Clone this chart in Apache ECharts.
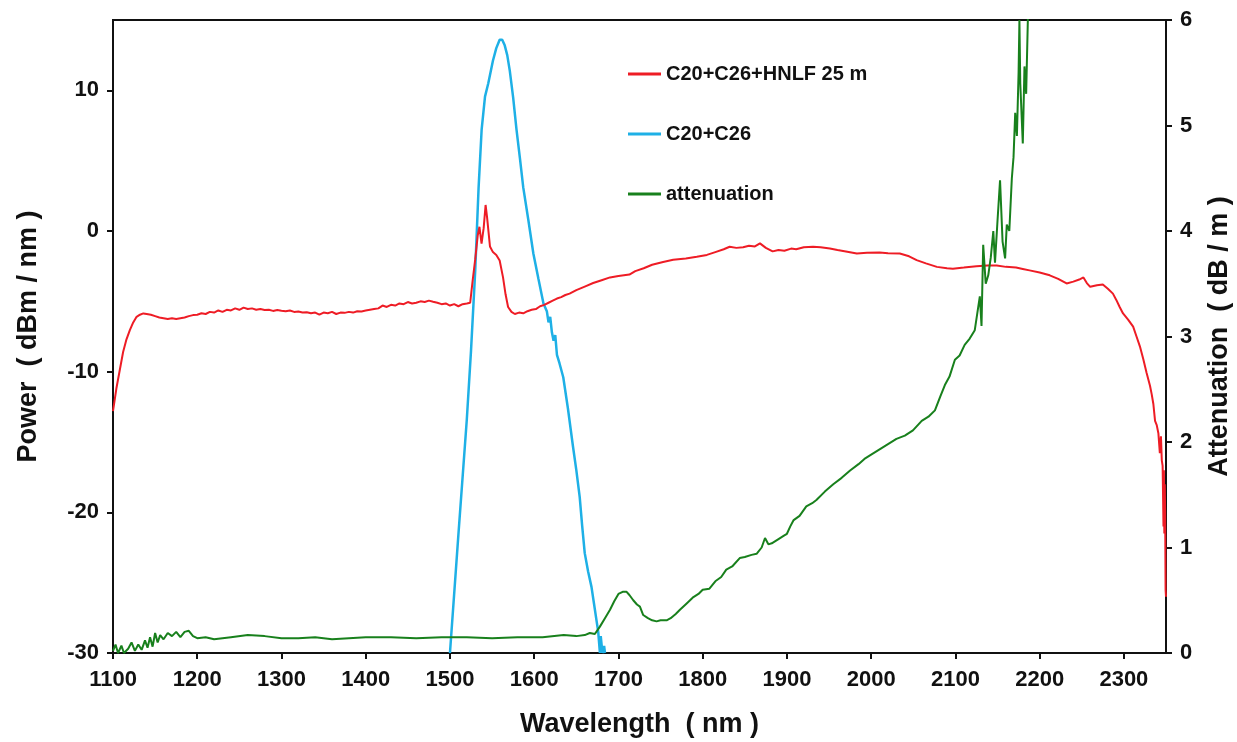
<!DOCTYPE html>
<html>
<head>
<meta charset="utf-8">
<title>Supercontinuum spectrum and fiber attenuation</title>
<script src="https://cdn.jsdelivr.net/npm/echarts@6/dist/echarts.min.js"></script>
<style>
  html, body { margin: 0; padding: 0; background: #ffffff; }
  #chart { width: 1237px; height: 742px; }
</style>
</head>
<body>
<div id="chart"></div>
<script>
// Tick values for the three axes
const wavelengthTicks = [1100, 1200, 1300, 1400, 1500, 1600, 1700, 1800, 1900, 2000, 2100, 2200, 2300];
const powerTicks = [-30, -20, -10, 0, 10];
const attenuationTicks = [0, 1, 2, 3, 4, 5, 6];

// Output spectrum after C20+C26 amplifiers and 25 m of HNLF: [wavelength nm, dBm/nm]
const hnlfSpectrum = [
  [1100,-12.8],[1104,-11.2],[1108,-9.9],[1112,-8.6],[1116,-7.7],[1120,-7.05],[1124,-6.5],[1128,-6.1],
  [1132,-5.95],[1136,-5.86],[1140,-5.9],[1145,-5.95],[1150,-6.05],[1155,-6.15],[1160,-6.2],[1165,-6.25],
  [1170,-6.2],[1175,-6.25],[1180,-6.2],[1185,-6.15],[1190,-6.05],[1195,-5.98],[1200,-5.95],[1205,-5.85],
  [1210,-5.9],[1215,-5.75],[1220,-5.8],[1225,-5.65],[1230,-5.75],[1235,-5.6],[1240,-5.65],[1245,-5.5],
  [1250,-5.6],[1255,-5.45],[1260,-5.55],[1265,-5.5],[1270,-5.6],[1275,-5.55],[1280,-5.62],[1285,-5.6],
  [1290,-5.68],[1295,-5.62],[1300,-5.67],[1305,-5.7],[1310,-5.65],[1315,-5.75],[1320,-5.72],[1325,-5.8],
  [1330,-5.78],[1335,-5.85],[1340,-5.8],[1345,-5.95],[1350,-5.8],[1355,-5.85],[1360,-5.75],[1365,-5.9],
  [1370,-5.8],[1375,-5.82],[1380,-5.75],[1385,-5.8],[1390,-5.7],[1395,-5.72],[1400,-5.65],[1405,-5.6],
  [1410,-5.55],[1415,-5.5],[1420,-5.3],[1425,-5.4],[1430,-5.25],[1435,-5.3],[1440,-5.15],[1445,-5.2],
  [1450,-5.05],[1455,-5.15],[1460,-5.1],[1465,-5.0],[1470,-5.05],[1475,-4.95],[1480,-5.03],[1485,-5.1],
  [1490,-5.2],[1495,-5.15],[1500,-5.3],[1505,-5.2],[1510,-5.35],[1515,-5.2],[1520,-5.15],[1524,-5.1],
  [1527,-3.5],[1530,-2.0],[1533,-0.3],[1535,0.3],[1537.5,-0.9],[1540,0.2],[1542.3,1.85],[1544,1.0],
  [1547.5,-1.1],[1551,-1.5],[1555,-1.7],[1559,-2.1],[1563,-3.3],[1566,-4.5],[1569,-5.4],[1573,-5.75],
  [1577,-5.9],[1582,-5.8],[1587,-5.85],[1592,-5.7],[1597,-5.6],[1602,-5.55],[1607,-5.35],[1612,-5.25],
  [1617,-5.1],[1622,-4.95],[1627,-4.8],[1632,-4.7],[1637,-4.55],[1642,-4.45],[1650,-4.2],[1660,-3.95],
  [1670,-3.7],[1680,-3.5],[1690,-3.3],[1700,-3.2],[1713,-3.1],[1720,-2.85],[1730,-2.65],[1740,-2.4],
  [1753,-2.2],[1765,-2.05],[1780,-1.95],[1793,-1.83],[1805,-1.7],[1815,-1.5],[1825,-1.3],[1832,-1.12],
  [1840,-1.2],[1848,-1.15],[1855,-1.05],[1862,-1.1],[1868,-0.88],[1875,-1.2],[1883,-1.45],[1890,-1.35],
  [1897,-1.4],[1905,-1.25],[1911,-1.3],[1920,-1.15],[1931,-1.12],[1940,-1.15],[1951,-1.24],[1960,-1.35],
  [1970,-1.45],[1983,-1.6],[1995,-1.55],[2010,-1.52],[2020,-1.58],[2034,-1.6],[2045,-1.8],[2054,-2.07],
  [2065,-2.3],[2078,-2.55],[2090,-2.65],[2097,-2.68],[2110,-2.6],[2125,-2.5],[2138,-2.45],[2149,-2.45],
  [2160,-2.55],[2172,-2.6],[2180,-2.7],[2188,-2.8],[2200,-2.95],[2212,-3.15],[2222,-3.4],[2232,-3.73],
  [2240,-3.6],[2247,-3.45],[2252,-3.3],[2256,-3.7],[2260,-3.97],[2268,-3.85],[2275,-3.8],[2281,-4.1],
  [2287,-4.45],[2291,-4.9],[2295,-5.4],[2299,-5.86],[2305,-6.3],[2311,-6.8],[2315,-7.5],[2319,-8.2],
  [2323,-9.1],[2327,-10.1],[2331,-11.0],[2333,-11.6],[2335,-12.3],[2337,-13.5],[2339,-13.8],[2341,-14.4],
  [2342.7,-15.8],[2344,-14.6],[2345,-16.3],[2346,-16.7],[2347,-21.0],[2347.5,-17.0],[2348,-21.5],
  [2348.5,-18.0],[2349,-20.0],[2349.5,-25.5],[2350,-26.0]
];

// Seed spectrum after the C20+C26 amplifiers: [wavelength nm, dBm/nm]
const ampSpectrum = [
  [1500,-30],[1510,-21.6],[1520,-13.4],[1525,-8.5],[1530,-2.8],[1534,3.1],[1537.6,7.2],[1541.6,9.55],
  [1545.5,10.5],[1551,12.1],[1555,13.0],[1559,13.6],[1562,13.6],[1565,13.2],[1568,12.5],[1571,11.4],
  [1575,9.5],[1579,7.2],[1583,5.2],[1587,3.1],[1593,0.8],[1599,-1.6],[1605,-3.4],[1611,-5.15],
  [1615,-5.7],[1617,-6.5],[1619,-6.1],[1621,-7.2],[1623,-7.8],[1625,-7.4],[1627,-8.8],[1630,-9.4],
  [1634.5,-10.4],[1640,-12.6],[1646,-15.3],[1650,-17.0],[1654,-18.9],[1657,-21.0],[1660,-22.9],
  [1664,-24.2],[1668,-25.3],[1671,-26.5],[1674,-27.7],[1676,-28.5],[1678,-30],[1679,-28.8],
  [1681,-30],[1683,-29.5],[1684,-30]
];

// Measured fiber attenuation: [wavelength nm, dB/m]
const attenuation = [
  [1100,0.02],[1103,0.08],[1106,0.0],[1110,0.07],[1113,0.0],[1118,0.04],[1122,0.1],[1126,0.02],
  [1130,0.08],[1134,0.03],[1138,0.12],[1141,0.05],[1144,0.15],[1147,0.06],[1150,0.19],[1153,0.1],
  [1156,0.17],[1160,0.13],[1165,0.19],[1170,0.16],[1175,0.2],[1180,0.15],[1185,0.2],[1190,0.21],
  [1195,0.16],[1200,0.14],[1210,0.15],[1220,0.13],[1240,0.15],[1260,0.17],[1280,0.16],[1300,0.14],
  [1320,0.14],[1340,0.15],[1360,0.13],[1380,0.14],[1400,0.15],[1430,0.15],[1460,0.14],[1490,0.15],
  [1520,0.15],[1550,0.14],[1580,0.15],[1610,0.15],[1635,0.17],[1650,0.16],[1660,0.17],[1666,0.19],
  [1672,0.18],[1678,0.25],[1684,0.33],[1690,0.41],[1695,0.49],[1700,0.56],[1705,0.58],[1709.7,0.58],
  [1713,0.55],[1717.6,0.5],[1722,0.46],[1725.5,0.44],[1729.4,0.36],[1735,0.33],[1740,0.31],
  [1745.3,0.3],[1750,0.31],[1757.2,0.31],[1762,0.33],[1768,0.37],[1773,0.41],[1781,0.47],[1789,0.53],
  [1795,0.56],[1800,0.6],[1808,0.61],[1815,0.68],[1822,0.72],[1828,0.79],[1835,0.82],[1844,0.9],
  [1850,0.91],[1858,0.93],[1864,0.94],[1870,1.0],[1874,1.09],[1878,1.03],[1882,1.04],[1890,1.08],
  [1896,1.11],[1900,1.13],[1904,1.2],[1908,1.26],[1915,1.3],[1923,1.39],[1930,1.42],[1935,1.45],
  [1945,1.53],[1955,1.6],[1965,1.66],[1975,1.73],[1985,1.79],[1992,1.84],[2000,1.88],[2010,1.93],
  [2020,1.98],[2030,2.03],[2040,2.06],[2049.6,2.11],[2060,2.2],[2068,2.24],[2075.7,2.3],[2082,2.43],
  [2087.5,2.54],[2093,2.62],[2099.4,2.78],[2105,2.82],[2111,2.92],[2117,2.98],[2123,3.06],
  [2129,3.38],[2131,3.1],[2133,3.87],[2136,3.5],[2139,3.58],[2142,3.75],[2145,4.0],[2147,3.7],
  [2150,4.1],[2153,4.48],[2156,3.9],[2159,3.74],[2161,4.06],[2164,4.0],[2167,4.5],[2169,4.7],
  [2171,5.12],[2173,4.9],[2175,5.5],[2176,6.0],[2177,5.4],[2180,4.83],[2182,5.56],[2184,5.3],
  [2186,6.0],[2188,6.5]
];

const FONT = '"Liberation Sans", Arial, sans-serif';
const INK = '#111111';

const axisLineStyle = { show: true, onZero: false, lineStyle: { color: INK, width: 2 } };
const tickLabel = { color: INK, fontFamily: FONT, fontWeight: 'bold', fontSize: 22, formatter: v => String(v) };
const axisName = { color: INK, fontFamily: FONT, fontWeight: 'bold', fontSize: 27 };
const tickStyle = { show: true, inside: false, length: 6, lineStyle: { color: INK, width: 2 } };

const chart = echarts.init(document.getElementById('chart'), null, { renderer: 'canvas' });

chart.setOption({
  animation: false,
  backgroundColor: '#ffffff',
  grid: {
    left: 113, right: 71, top: 20, bottom: 89,
    outerBoundsMode: 'none',
    containLabel: false,
    show: true, borderColor: INK, borderWidth: 2, backgroundColor: 'transparent'
  },
  legend: {
    orient: 'vertical',
    left: 628,
    top: 64,
    padding: 0,
    itemWidth: 33,
    itemHeight: 3,
    itemGap: 40,
    icon: 'rect',
    textStyle: { color: INK, fontFamily: FONT, fontWeight: 'bold', fontSize: 20, lineHeight: 20 },
    data: ['C20+C26+HNLF 25 m', 'C20+C26', 'attenuation']
  },
  xAxis: {
    type: 'value',
    min: 1100, max: 2350, interval: 100,
    name: 'Wavelength  ( nm )',
    nameLocation: 'middle',
    nameGap: 58,
    nameTextStyle: axisName,
    axisLine: axisLineStyle,
    axisTick: Object.assign({ customValues: wavelengthTicks }, tickStyle),
    axisLabel: Object.assign({ margin: 16, customValues: wavelengthTicks }, tickLabel),
    splitLine: { show: false }
  },
  yAxis: [
    {
      type: 'value',
      position: 'left',
      min: -30, max: 15, interval: 10,
      name: 'Power  ( dBm / nm )',
      nameLocation: 'middle',
      nameRotate: 90,
      nameGap: 71,
      nameTextStyle: axisName,
      axisLine: axisLineStyle,
      axisTick: Object.assign({ customValues: powerTicks }, tickStyle),
      axisLabel: Object.assign({ margin: 14, customValues: powerTicks }, tickLabel),
      splitLine: { show: false }
    },
    {
      type: 'value',
      position: 'right',
      min: 0, max: 6, interval: 1,
      name: 'Attenuation  ( dB / m )',
      nameLocation: 'middle',
      nameRotate: 90,
      nameGap: 40,
      nameTextStyle: axisName,
      axisLine: axisLineStyle,
      axisTick: Object.assign({ customValues: attenuationTicks }, tickStyle),
      axisLabel: Object.assign({ margin: 14, customValues: attenuationTicks }, tickLabel),
      splitLine: { show: false }
    }
  ],
  series: [
    {
      name: 'C20+C26+HNLF 25 m',
      type: 'line',
      yAxisIndex: 0,
      data: hnlfSpectrum,
      showSymbol: false,
      clip: true,
      color: '#ee1c25',
      lineStyle: { width: 2, color: '#ee1c25' },
      z: 3
    },
    {
      name: 'C20+C26',
      type: 'line',
      yAxisIndex: 0,
      data: ampSpectrum,
      showSymbol: false,
      clip: true,
      color: '#1eb0e6',
      lineStyle: { width: 2.5, color: '#1eb0e6' },
      z: 2
    },
    {
      name: 'attenuation',
      type: 'line',
      yAxisIndex: 1,
      data: attenuation,
      showSymbol: false,
      clip: true,
      color: '#18801c',
      lineStyle: { width: 2, color: '#18801c' },
      z: 4
    }
  ]
});
</script>
</body>
</html>
